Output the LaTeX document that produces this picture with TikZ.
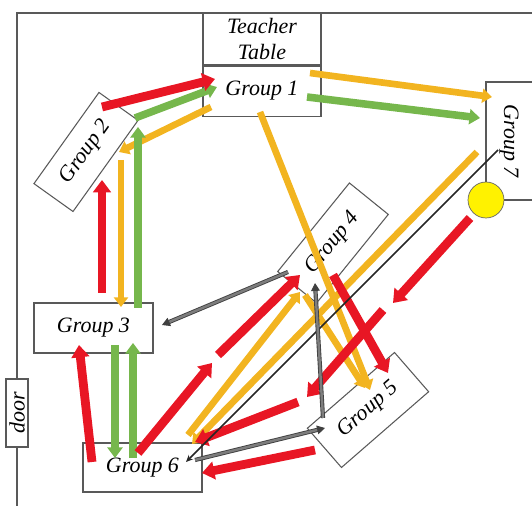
\documentclass[tikz,border=0pt]{standalone}
\usepackage{fontspec}
\setmainfont{Liberation Serif}
\usetikzlibrary{arrows.meta,positioning}

\definecolor{arrred}{RGB}{232,22,36}
\definecolor{arrgold}{RGB}{242,180,32}
\definecolor{arrgreen}{RGB}{118,183,76}
\definecolor{arrgray}{RGB}{125,125,125}
\definecolor{bellyellow}{RGB}{255,242,0}

\begin{document}
\begin{tikzpicture}[x=0.02cm, y=-0.02cm]
  \tikzstyle{desk} = [draw=black!65, fill=white, line width=0.6pt, inner sep=0pt, align=center,
                      font=\itshape\fontsize{12.5}{14.7}\selectfont]
  \tikzstyle{redarrow} = [-{Triangle[length=7pt,width=10pt]}, line width=5pt, draw=arrred]
  \tikzstyle{goldarrow} = [-{Triangle[length=5.5pt,width=8pt]}, line width=3.8pt, draw=arrgold]
  \tikzstyle{greenarrow} = [-{Triangle[length=6pt,width=8.5pt]}, line width=4.3pt, draw=arrgreen]
  \tikzstyle{grayarrow} = [-{Triangle[length=4.5pt,width=5pt]}, line width=0.5pt, draw=black!75,
                           double=arrgray, double distance=1.4pt]
  \tikzstyle{blackarrow} = [-{Stealth[length=4pt,width=3.5pt]}, line width=0.9pt, draw=black!85]
  \useasboundingbox (0,0) rectangle (532,506);

  % room and tables
  \draw[black!65, line width=0.6pt] (532,13) -- (17,13) -- (17,506);
  \node[desk, minimum width=2.36cm, minimum height=1.04cm] (teacher) at (262,39) {Teacher\\Table};
  \node[desk, minimum width=2.36cm, minimum height=1cm, below=0pt of teacher] (g1) {Group 1};
  \node[desk, minimum width=2.24cm, minimum height=0.96cm, rotate=54.5] (g2) at (86,152) {Group 2};
  \node[desk, minimum width=2.38cm, minimum height=1cm] (g3) at (93.5,328) {Group 3};
  \node[desk, minimum width=2.28cm, minimum height=1cm, rotate=51] (g4) at (333,243) {Group 4};
  \node[desk, minimum width=2.31cm, minimum height=1.04cm, rotate=41] (g5) at (368,410) {Group 5};
  \node[desk, minimum width=2.38cm, minimum height=0.98cm] (g6) at (142.5,467.5) {Group 6};
  \node[desk, minimum width=1.36cm, minimum height=0.44cm, rotate=90] (door) at (17,413) {door};
  \draw[black!65, line width=0.6pt] (532,82) -- (486,82) -- (486,200) -- (532,200);
  \node[font=\itshape\fontsize{12.5}{14.7}\selectfont, rotate=-90] (g7) at (509,141) {Group 7};
  \node[circle, draw=black!60, fill=bellyellow, minimum size=0.72cm] (bell) at (486,200) {};

  % arrow ends
  \coordinate (r1a) at (102,107);  \coordinate (r1b) at (215,79);
  \coordinate (r2a) at (102,293);  \coordinate (r2b) at (102,180);
  \coordinate (r3a) at (92,462);   \coordinate (r3b) at (79,345);
  \coordinate (r4a) at (138,453);  \coordinate (r4b) at (212,363);
  \coordinate (r5a) at (218,355);  \coordinate (r5b) at (300,275);
  \coordinate (r6a) at (333,275);  \coordinate (r6b) at (388,373);
  \coordinate (r7a) at (470,218);  \coordinate (r7b) at (393,303);
  \coordinate (r8a) at (383,310);  \coordinate (r8b) at (307,397);
  \coordinate (r9a) at (298,402);  \coordinate (r9b) at (195,442);
  \coordinate (r10a) at (315,450); \coordinate (r10b) at (202,473);
  \coordinate (y1a) at (211,107);  \coordinate (y1b) at (119,152);
  \coordinate (y2a) at (121,160);  \coordinate (y2b) at (121,307);
  \coordinate (y3a) at (310,73);   \coordinate (y3b) at (492,97);
  \coordinate (y4a) at (260,112);  \coordinate (y4b) at (370,390);
  \coordinate (y5a) at (305,295);  \coordinate (y5b) at (365,388);
  \coordinate (y6a) at (188,435);  \coordinate (y6b) at (300,292);
  \coordinate (y7a) at (477,152);  \coordinate (y7b) at (192,444);
  \coordinate (e1a) at (135,118);  \coordinate (e1b) at (217,87);
  \coordinate (e2a) at (138,308);  \coordinate (e2b) at (138,127);
  \coordinate (e3a) at (115,345);  \coordinate (e3b) at (115,458);
  \coordinate (e4a) at (133,458);  \coordinate (e4b) at (133,343);
  \coordinate (e5a) at (307,97);   \coordinate (e5b) at (480,118);
  \coordinate (k1a) at (288,272);  \coordinate (k1b) at (162,325);
  \coordinate (k2a) at (323,418);  \coordinate (k2b) at (315,283);
  \coordinate (k3a) at (195,460);  \coordinate (k3b) at (325,428);
  \coordinate (b1a) at (498,150);  \coordinate (b1b) at (186,462);

  % movements
  \foreach \i in {1,...,7} \draw[goldarrow] (y\i a) -- (y\i b);
  \foreach \i in {1,...,5} \draw[greenarrow] (e\i a) -- (e\i b);
  \foreach \i in {1,...,10} \draw[redarrow] (r\i a) -- (r\i b);
  \draw[blackarrow] (b1a) -- (b1b);
  \foreach \i in {1,2,3} \draw[grayarrow] (k\i a) -- (k\i b);
\end{tikzpicture}
\end{document}
